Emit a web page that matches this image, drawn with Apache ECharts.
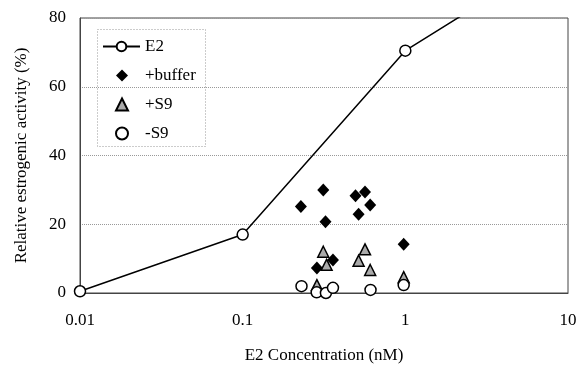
<!DOCTYPE html>
<html><head><meta charset="utf-8">
<script src="https://cdn.jsdelivr.net/npm/echarts@6/dist/echarts.min.js"></script>
<style>html,body{margin:0;padding:0;background:#fff}#c{width:587px;height:365px}</style>
</head><body><div id="c"></div>
<script>
const e2X = [0.01, 0.1, 1, 10];
const e2Y = [0.5, 17, 70.5, 100];
const bufX = [0.228, 0.313, 0.323, 0.494, 0.565, 0.516, 0.608, 0.977, 0.359, 0.286];
const bufY = [25.2, 30.0, 20.7, 28.3, 29.4, 22.9, 25.6, 14.2, 9.6, 7.3];
const s9pX = [0.313, 0.328, 0.565, 0.516, 0.608, 0.977, 0.286];
const s9pY = [12.0, 8.2, 12.7, 9.4, 6.7, 4.6, 2.3];
const s9mX = [0.230, 0.285, 0.325, 0.359, 0.611, 0.977];
const s9mY = [2.0, 0.2, 0.0, 1.5, 0.9, 2.3];
const xTicks = [0.01, 0.1, 1, 10];
const yTicks = [0, 20, 40, 60, 80];

const pairs = (xs, ys) => xs.map((x, i) => [x, ys[i]]);
const font = 'Liberation Serif';
const fs = 17;
const chart = echarts.init(document.getElementById('c'), null, {renderer: 'canvas'});
chart.setOption({
  animation: false,
  backgroundColor: '#fff',
  textStyle: {fontFamily: font},
  grid: {left: 80, right: 19, top: 18, bottom: 72, outerBoundsMode: 'none', containLabel: false,
    show: true, borderColor: '#444', borderWidth: 1, backgroundColor: 'transparent'},
  graphic: [{type: 'rect', left: 97, top: 29, z: 10, silent: true,
    shape: {width: 108, height: 117},
    style: {fill: 'rgba(255,255,255,0)', stroke: '#999', lineWidth: 1, lineDash: [1, 2]}}],
  legend: [{
    orient: 'vertical', left: 102, top: 38, padding: 0,
    data: ['E2'],
    itemWidth: 37, itemHeight: 12,
    textStyle: {fontFamily: font, fontSize: fs, color: '#000'}
  }, {
    orient: 'vertical', left: 115, top: 67, padding: 0,
    data: ['+buffer', '+S9', '-S9'],
    itemWidth: 12, itemHeight: 12, itemGap: 12,
    textStyle: {fontFamily: font, fontSize: fs, color: '#000', padding: [0, 0, 0, 12]}
  }],
  xAxis: {
    type: 'log', logBase: 10, min: 0.01, max: 10,
    name: 'E2 Concentration (nM)', nameLocation: 'middle', nameGap: 54,
    nameTextStyle: {fontFamily: font, fontSize: fs, color: '#000'},
    axisLine: {show: true, lineStyle: {color: '#444'}},
    axisTick: {show: false},
    axisLabel: {fontFamily: font, fontSize: fs, color: '#000', margin: 19,
      formatter: v => { const t = xTicks.find(k => Math.abs(k - v) / k < 1e-6); return t === undefined ? '' : String(t); }},
    splitLine: {show: false}
  },
  yAxis: {
    type: 'value', min: 0, max: 80, interval: 20,
    name: 'Relative estrogenic activity (%)', nameLocation: 'middle', nameGap: 50,
    nameTextStyle: {fontFamily: font, fontSize: fs, color: '#000'},
    axisLine: {show: true, lineStyle: {color: '#444'}},
    axisTick: {show: false},
    axisLabel: {fontFamily: font, fontSize: fs, color: '#000', margin: 14,
      formatter: v => yTicks.includes(v) ? String(v) : ''},
    splitLine: {show: true, lineStyle: {color: '#999', type: 'dotted', width: 1}}
  },
  series: [
    {name: 'E2', type: 'line', data: pairs(e2X, e2Y), symbol: 'circle', symbolSize: 11,
     lineStyle: {color: '#000', width: 1.5},
     itemStyle: {color: '#fff', borderColor: '#000', borderWidth: 1.5}, clip: true, z: 3},
    {name: '+buffer', type: 'scatter', data: pairs(bufX, bufY), symbol: 'diamond', symbolSize: [12, 13],
     itemStyle: {color: '#000', opacity: 1}},
    {name: '+S9', type: 'scatter', data: pairs(s9pX, s9pY), symbol: 'triangle', symbolSize: 11,
     itemStyle: {color: '#aaa', borderColor: '#000', borderWidth: 1.5, opacity: 1}},
    {name: '-S9', type: 'scatter', data: pairs(s9mX, s9mY), symbol: 'circle', symbolSize: 11,
     itemStyle: {color: '#fff', borderColor: '#000', borderWidth: 1.5, opacity: 1}}
  ]
});
</script></body></html>
